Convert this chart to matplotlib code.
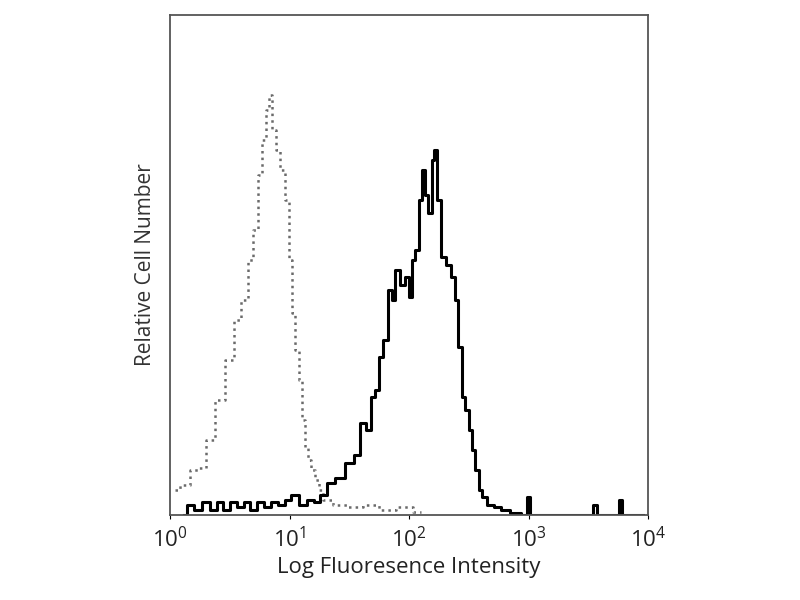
import numpy as np
import matplotlib
matplotlib.use("Agg")
import matplotlib.pyplot as plt

plt.rcParams["font.family"] = ["Open Sans", "DejaVu Sans"]

# isotype control (grey dotted histogram)
ctrlX = [1.10, 1.34, 1.62, 1.85, 2.16, 2.62, 3.18, 3.64, 4.24, 4.67, 5.14, 5.66,
         6.12, 6.48, 6.87, 7.42, 8.01, 8.65, 9.53, 10.1, 10.7, 11.6, 12.2, 13.2,
         14.0, 14.8, 15.7, 17.0, 18.0, 19.8, 26.0, 35.0, 48.0, 65.0, 90.0, 125.0]
ctrlY = [5, 6, 9, 9.4, 15, 23, 31, 39, 43, 51, 57, 68,
         75, 81, 84, 77, 73, 69, 63, 51, 40.4, 33, 27, 19,
         13.6, 11, 9, 7, 5, 3, 2, 1.5, 2, 1, 1.5, 0.5]

# stained sample (black histogram)
stainX = [1.3, 1.5, 1.7, 2.0, 2.3, 2.6, 3.0, 3.4, 3.9, 4.4, 5.0, 5.7, 6.5, 7.4,
          8.5, 9.7, 11.0, 13.0, 15.0, 17.0, 19.0, 21.8, 26.5, 32.1, 36.7, 41.2,
          45.4, 50.0, 54.0, 57.2, 63.0, 69.3, 73.5, 79.4, 87.4, 96.2, 102, 108,
          117, 124, 131, 139, 150, 159, 165, 175, 193, 212, 233, 252, 267, 283,
          306, 324, 343, 371, 393, 416, 476, 545, 635, 771, 950, 1000, 1060, 1150,
          3300, 3600, 3900, 5500, 5870, 6300, 9000]
stainY = [0, 2, 1, 2.5, 1, 2.5, 1, 2.5, 1.5, 2.5, 1, 2.5, 1.5, 2.5,
          2, 3, 4, 2, 3, 2.5, 4, 6.4, 7.4, 10.4, 12, 18.4,
          17, 23.6, 25, 31.6, 35, 45, 43, 49, 46, 47.6, 43.6, 51,
          53, 63, 69, 64, 60.4, 71, 73, 63, 51.6, 50, 47.6, 43, 33.6, 23.6,
          21, 17, 13, 9, 5, 3.6, 2, 1.6, 1, 0.4, 0, 3.5, 0, 0,
          0, 2, 0, 0, 3, 0, 0]

fig = plt.figure(figsize=(8, 6), dpi=100)
ax = fig.add_axes([0.2125, 0.1417, 0.5975, 0.8333])

ax.plot(ctrlX, ctrlY, color="#6a6a6a", linestyle=":", linewidth=1.8, drawstyle="steps-mid")
ax.plot(stainX, stainY, color="black", linewidth=2.2, drawstyle="steps-mid")

ax.set_xscale("log")
ax.set_xlim(1, 1e4)
ax.set_ylim(0, 100)
ax.set_yticks([])
ax.set_xticks([1, 10, 100, 1000, 10000])
ax.xaxis.set_minor_locator(matplotlib.ticker.NullLocator())
ax.tick_params(axis="x", direction="out", length=3, labelsize=16, pad=6, labelcolor="#222222")
for sp in ax.spines.values():
    sp.set_color("#555555")
    sp.set_linewidth(1.3)

ax.set_xlabel("Log Fluoresence Intensity", fontsize=16, color="#222222", labelpad=3)
ax.set_ylabel("Relative Cell Number", fontsize=15, color="#333333", labelpad=10)

fig.savefig("out.png")
